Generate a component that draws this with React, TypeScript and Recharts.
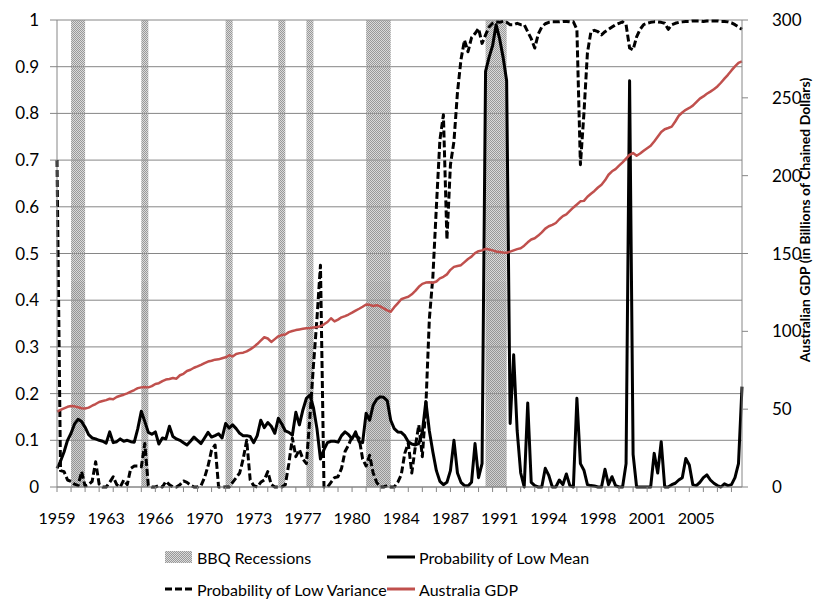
import React from 'react';
import { ComposedChart, Line, XAxis, YAxis, CartesianGrid, ReferenceArea, Legend } from 'recharts';

// Quarterly data, 1959Q3 .. 2008Q2
const START_YEAR = 1959;
const START_QUARTER = 3;

// Australian GDP (billions of chained dollars), right axis
const gdp = [
  48.4, 49.5, 50.5, 51.5, 52.0, 51.8, 51.2, 50.6, 50.4, 51.0,
  52.2, 53.3, 54.6, 55.2, 55.8, 56.7, 56.4, 57.8, 58.6, 59.3,
  60.1, 61.2, 62.3, 63.5, 64.0, 64.2, 64.0, 64.8, 66.2, 66.7,
  68.0, 69.0, 69.4, 70.0, 69.6, 71.8, 72.7, 74.5, 75.3, 76.6,
  77.5, 78.5, 79.6, 80.6, 81.1, 81.8, 82.0, 82.7, 83.3, 84.6,
  83.9, 85.5, 86.0, 86.3, 87.1, 88.4, 90.0, 91.8, 94.0, 96.2,
  95.4, 93.2, 95.0, 96.8, 97.6, 98.0, 99.5, 100.2, 100.8, 101.2,
  101.6, 102.0, 102.2, 102.5, 102.8, 103.2, 104.5, 106.0, 108.4, 106.4,
  107.5, 109.0, 109.8, 110.8, 112.0, 113.3, 114.5, 115.8, 117.2, 117.0,
  116.3, 116.8, 116.0, 114.8, 113.5, 112.6, 115.5, 118.0, 120.6, 121.5,
  122.2, 123.8, 126.0, 128.6, 130.5, 131.3, 131.5, 131.2, 132.0, 134.0,
  135.0, 136.6, 139.5, 141.4, 142.0, 142.5, 144.5, 146.5, 148.0, 150.3,
  151.5, 152.0, 153.0, 152.6, 152.0, 151.3, 151.0, 150.6, 150.5, 151.2,
  152.0, 152.8, 153.4, 155.0, 157.2, 159.0, 159.8, 161.5, 163.6, 166.0,
  167.5, 168.4, 169.6, 172.0, 174.0, 175.2, 177.4, 179.6, 181.5, 183.5,
  183.8, 186.5, 188.4, 190.2, 192.4, 194.2, 197.0, 200.6, 202.8, 204.2,
  206.4, 208.6, 211.0, 213.4, 214.5, 212.8, 214.2, 216.0, 217.6, 219.2,
  222.0, 225.0, 228.0, 229.8, 230.6, 231.5, 234.8, 238.5, 240.6, 242.3,
  243.5, 245.0, 247.2, 249.5, 250.9, 252.6, 254.0, 255.5, 257.3, 259.7,
  262.3, 264.8, 267.6, 270.2, 272.4, 273.4,
];

// Probability of Low Mean, left axis
const lowMean = [
  0.04, 0.055, 0.075, 0.10, 0.115, 0.135, 0.145, 0.14, 0.128, 0.112,
  0.105, 0.103, 0.10, 0.098, 0.094, 0.118, 0.095, 0.097, 0.103, 0.098,
  0.10, 0.097, 0.096, 0.125, 0.162, 0.14, 0.117, 0.113, 0.118, 0.092,
  0.105, 0.103, 0.13, 0.108, 0.103, 0.10, 0.095, 0.09, 0.098, 0.107,
  0.10, 0.093, 0.105, 0.117, 0.107, 0.11, 0.114, 0.105, 0.136, 0.126,
  0.133, 0.125, 0.115, 0.11, 0.11, 0.108, 0.095, 0.11, 0.143, 0.127,
  0.138, 0.13, 0.115, 0.147, 0.135, 0.12, 0.117, 0.111, 0.16, 0.133,
  0.165, 0.19, 0.197, 0.17, 0.125, 0.06, 0.08, 0.095, 0.098, 0.098,
  0.096, 0.11, 0.118, 0.112, 0.103, 0.118, 0.097, 0.095, 0.158, 0.143,
  0.175, 0.188, 0.193, 0.192, 0.185, 0.143, 0.125, 0.118, 0.117, 0.11,
  0.097, 0.092, 0.09, 0.093, 0.118, 0.183, 0.12, 0.075, 0.035, 0.012,
  0.005, 0.01, 0.035, 0.10, 0.03, 0.01, 0.003, 0.002, 0.01, 0.093,
  0.02, 0.05, 0.89, 0.92, 0.945, 0.99, 0.96, 0.92, 0.87, 0.136,
  0.283, 0.12, 0.03, 0.0, 0.18, 0.01, 0.003, 0.0, 0.0, 0.04,
  0.025, 0.0, 0.0, 0.015, 0.005, 0.028, 0.003, 0.0, 0.19, 0.05,
  0.036, 0.005, 0.003, 0.002, 0.0, 0.0, 0.038, 0.005, 0.022, 0.003,
  0.0, 0.0, 0.05, 0.87, 0.07, 0.0, 0.0, 0.0, 0.0, 0.0,
  0.072, 0.03, 0.097, 0.0, 0.0, 0.005, 0.008, 0.015, 0.02, 0.061,
  0.047, 0.005, 0.003, 0.01, 0.02, 0.026, 0.015, 0.008, 0.003, 0.0,
  0.007, 0.003, 0.005, 0.02, 0.05, 0.215,
];

// Probability of Low Variance, left axis
const lowVariance = [
  0.70, 0.035, 0.033, 0.015, 0.012, 0.006, 0.003, 0.033, 0.002, 0.005,
  0.012, 0.054, 0.006, 0.0, 0.0, 0.01, 0.022, 0.005, 0.0, 0.015,
  0.005, 0.04, 0.045, 0.045, 0.043, 0.093, 0.003, 0.0, 0.0, 0.003,
  0.0, 0.012, 0.005, 0.0, 0.0, 0.005, 0.013, 0.01, 0.004, 0.0,
  0.0, 0.003, 0.02, 0.045, 0.079, 0.09, 0.0, 0.0, 0.0, 0.0,
  0.01, 0.02, 0.03, 0.06, 0.10, 0.015, 0.003, 0.0, 0.01, 0.015,
  0.033, 0.005, 0.0, 0.0, 0.0, 0.005, 0.05, 0.105, 0.065, 0.08,
  0.06, 0.05, 0.15, 0.26, 0.36, 0.475, 0.0, 0.0, 0.01, 0.02,
  0.022, 0.04, 0.076, 0.09, 0.108, 0.11, 0.105, 0.06, 0.045, 0.068,
  0.03, 0.01, 0.0, 0.0, 0.003, 0.0, 0.0, 0.01, 0.026, 0.072,
  0.094, 0.03, 0.086, 0.133, 0.065, 0.172, 0.36, 0.45, 0.6, 0.743,
  0.797, 0.53, 0.69, 0.74, 0.845, 0.915, 0.957, 0.932, 0.962, 0.971,
  0.982, 0.95, 0.968, 0.985, 0.993, 0.996, 0.995, 0.997, 0.995, 0.99,
  0.99, 0.993, 0.99, 0.99, 0.975, 0.96, 0.94, 0.97, 0.985, 0.992,
  0.995, 0.996, 0.996, 0.996, 0.997, 0.997, 0.996, 0.996, 0.98, 0.69,
  0.80, 0.93, 0.975, 0.978, 0.975, 0.968, 0.975, 0.98, 0.985, 0.99,
  0.993, 0.996, 0.99, 0.94, 0.936, 0.964, 0.98, 0.99, 0.993, 0.995,
  0.996, 0.996, 0.995, 0.993, 0.98, 0.99, 0.993, 0.995, 0.996, 0.997,
  0.997, 0.998, 0.998, 0.998, 0.997, 0.998, 0.998, 0.998, 0.998, 0.997,
  0.997, 0.996, 0.994, 0.99, 0.985, 0.98,
];

// BBQ recession periods (quarters); the shading shows a second, shorter column layer
const recessionStart = ['1960Q3', '1965Q3', '1971Q3', '1975Q2', '1977Q2', '1981Q3', '1990Q1'];
const recessionEnd = ['1961Q3', '1966Q1', '1972Q1', '1975Q4', '1977Q4', '1983Q2', '1991Q3'];
const recessionFullHeight = 1;
const recessionInnerHeight = 0.44;

// Axis tick labels
const yearTickLabels = ['1959', '1963', '1966', '1970', '1973', '1977', '1980', '1984', '1987', '1991', '1994', '1998', '2001', '2005'];
const leftTicks = [0, 0.1, 0.2, 0.3, 0.4, 0.5, 0.6, 0.7, 0.8, 0.9, 1];
const leftTickLabels = ['0', '0.1', '0.2', '0.3', '0.4', '0.5', '0.6', '0.7', '0.8', '0.9', '1'];
const rightTicks = [0, 50, 100, 150, 200, 250, 300];

const LABEL_EVERY = 14;
const MARK_EVERY = 4;

const quarters = gdp.map((_, i) => {
  const q0 = START_QUARTER - 1 + i;
  return `${START_YEAR + Math.floor(q0 / 4)}Q${(q0 % 4) + 1}`;
});

const data = quarters.map((q, i) => ({
  i,
  q,
  gdp: gdp[i],
  mean: lowMean[i],
  variance: lowVariance[i],
}));

const lastIndex = data.length - 1;
const xTicks: number[] = [];
for (let i = 0; i <= lastIndex; i++) {
  if (i % MARK_EVERY === 0 || i % LABEL_EVERY === 0) xTicks.push(i);
}

const FONT = 'Lato, "Open Sans", sans-serif';
const GRID = '#868686';

function XTick(props: any) {
  const { x, y, payload } = props;
  const v = payload.value as number;
  const li = v % LABEL_EVERY === 0 ? v / LABEL_EVERY : -1;
  return (
    <g>
      {v % MARK_EVERY === 0 && <line x1={x} x2={x} y1={y} y2={y + 5} stroke={GRID} strokeWidth={1} />}
      {li >= 0 && li < yearTickLabels.length && (
        <text x={x} y={y + 37} textAnchor="middle" fontFamily={FONT} fontSize={16} fill="#000">
          {yearTickLabels[li]}
        </text>
      )}
    </g>
  );
}

function RightTitle(props: any) {
  const vb = props.viewBox || { x: 742, y: 20, width: 80, height: 467 };
  const cx = vb.x + 64;
  const cy = vb.y + 200;
  return (
    <text
      transform={`translate(${cx},${cy}) rotate(-90)`}
      textAnchor="middle"
      dominantBaseline="middle"
      fontFamily={FONT}
      fontSize={14}
      fontWeight="bold"
      fill="#000"
    >
      Australian GDP (in Billions of Chained Dollars)
    </text>
  );
}

function LegendBox() {
  const row1 = 30;
  const row2 = 62;
  const textStyle = { fontFamily: FONT, fontSize: 16, fill: '#000' } as any;
  return (
    <svg width={822} height={72} style={{ display: 'block' }}>
      <defs>
        <pattern id="bbqLegend" width="2" height="2" patternUnits="userSpaceOnUse">
          <rect width="2" height="2" fill="rgba(150,150,150,0.35)" />
          <rect x="0" y="0" width="1" height="1" fill="#999" />
          <rect x="1" y="1" width="1" height="1" fill="#999" />
        </pattern>
      </defs>
      <rect x={165} y={row1 - 6} width={27} height={12} fill="url(#bbqLegend)" />
      <text x={197} y={row1} dominantBaseline="central" {...textStyle}>BBQ Recessions</text>
      <line x1={387} x2={415} y1={row1} y2={row1} stroke="#000" strokeWidth={3} />
      <text x={419} y={row1} dominantBaseline="central" {...textStyle}>Probability of Low Mean</text>
      <line x1={165} x2={192} y1={row2} y2={row2} stroke="#000" strokeWidth={3} strokeDasharray="7 3" />
      <text x={197} y={row2} dominantBaseline="central" {...textStyle}>Probability of Low Variance</text>
      <line x1={387} x2={415} y1={row2} y2={row2} stroke="#c0504d" strokeWidth={3} />
      <text x={419} y={row2} dominantBaseline="central" {...textStyle}>Australia GDP</text>
    </svg>
  );
}

export default function App() {
  return (
    <div style={{ position: 'absolute', left: 0, top: 0, width: 822, height: 599, background: '#fff' }}>
      <ComposedChart
        width={822}
        height={599}
        data={data}
        margin={{ top: 20, right: 0, bottom: 0, left: 0 }}
        style={{ fontFamily: FONT }}
      >
        <defs>
          <pattern id="bbq" width="2" height="2" patternUnits="userSpaceOnUse">
            <rect width="2" height="2" fill="rgba(150,150,150,0.35)" />
            <rect x="0" y="0" width="1" height="1" fill="#999" />
            <rect x="1" y="1" width="1" height="1" fill="#999" />
          </pattern>
        </defs>
        <CartesianGrid yAxisId="left" vertical={false} stroke={GRID} strokeWidth={1} />
        <XAxis
          dataKey="i"
          type="number"
          domain={[0, lastIndex]}
          ticks={xTicks}
          interval={0}
          tick={<XTick />}
          tickLine={false}
          tickSize={0}
          tickMargin={0}
          height={40}
          axisLine={{ stroke: GRID }}
          allowDecimals={false}
        />
        <YAxis
          yAxisId="left"
          domain={[0, 1]}
          ticks={leftTicks}
          interval={0}
          width={57}
          tickSize={7}
          tickMargin={11}
          tickLine={{ stroke: GRID }}
          axisLine={{ stroke: GRID }}
          tickFormatter={(v: number) => leftTickLabels[leftTicks.indexOf(v)] ?? String(v)}
          tick={{ fontFamily: FONT, fontSize: 17, fill: '#000' }}
        />
        <YAxis
          yAxisId="right"
          orientation="right"
          domain={[0, 300]}
          ticks={rightTicks}
          interval={0}
          width={80}
          tickSize={6}
          tickMargin={24}
          tickLine={{ stroke: GRID }}
          axisLine={{ stroke: GRID }}
          tick={{ fontFamily: FONT, fontSize: 17, fill: '#000', textAnchor: 'start' }}
          label={<RightTitle />}
        />
        {recessionStart.map((s, k) => (
          <ReferenceArea
            key={`full-${s}`}
            yAxisId="left"
            x1={quarters.indexOf(s)}
            x2={quarters.indexOf(recessionEnd[k])}
            y1={0}
            y2={recessionFullHeight}
            fill="url(#bbq)"
            fillOpacity={1}
            stroke="none"
          />
        ))}
        {recessionStart.map((s, k) => (
          <ReferenceArea
            key={`inner-${s}`}
            yAxisId="left"
            x1={quarters.indexOf(s)}
            x2={quarters.indexOf(recessionEnd[k])}
            y1={0}
            y2={recessionInnerHeight}
            fill="#808080"
            fillOpacity={0.1}
            stroke="none"
          />
        ))}
        <Line
          yAxisId="left"
          dataKey="variance"
          stroke="#000"
          strokeWidth={3}
          strokeDasharray="7 3"
          dot={false}
          isAnimationActive={false}
          strokeLinejoin="round"
        />
        <Line
          yAxisId="left"
          dataKey="mean"
          stroke="#000"
          strokeWidth={3}
          dot={false}
          isAnimationActive={false}
          strokeLinejoin="round"
        />
        <Line
          yAxisId="right"
          dataKey="gdp"
          stroke="#c0504d"
          strokeWidth={2.5}
          dot={false}
          isAnimationActive={false}
          strokeLinejoin="round"
        />
        <Legend verticalAlign="bottom" align="left" content={() => <LegendBox />} wrapperStyle={{ left: 0, width: 822 }} />
      </ComposedChart>
    </div>
  );
}
